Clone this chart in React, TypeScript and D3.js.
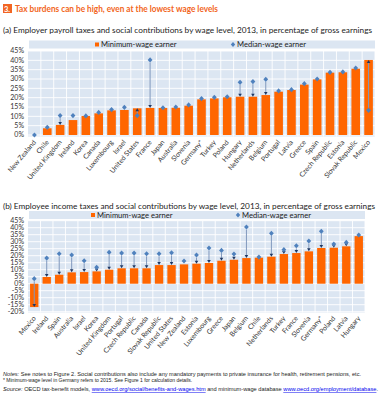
import React from "react";
import * as d3 from "d3";

const topCountries = ["New Zealand","Chile","United Kingdom","Ireland","Korea","Canada","Luxembourg","Israel","United States","France","Japan","Australia","Slovenia","Germany*","Turkey","Poland","Hungary","Netherlands","Belgium","Portugal","Latvia","Greece","Spain","Czech Republic","Estonia","Slovak Republic","Mexico"];
const topMin = [0,3.6,5.4,8,10.2,11.6,13.2,13.4,14.3,14.5,14.5,14.6,15.7,19.1,19.6,20.2,20.5,20.5,21.4,23.2,24.1,27,29.8,33.4,33.6,35.5,40.2];
const topMedian = [0,4.1,10.4,10.4,10.2,12.1,13.6,14.8,10.4,40.2,14.6,15,16.1,19.5,20.2,20.5,28.2,28.6,29.8,23.6,24.3,27.5,30,33.6,33.8,35.9,13.2];
const topTicks = [0,5,10,15,20,25,30,35,40,45];

const botCountries = ["Mexico","Ireland","Spain","Australia","Israel","Korea","United Kingdom","Portugal","Czech Republic","Canada","Slovak Republic","United States","New Zealand","Estonia","Luxembourg","Greece","Japan","Belgium","Chile","Netherlands","Turkey","France","Slovenia","Germany*","Poland","Latvia","Hungary"];
const botMin = [-16.7,4.8,6.4,8.1,8.3,8.8,10,11,11,11,13.3,13.3,13.8,14.3,14.8,16.4,17.1,18.3,18.6,19.3,21.2,21.9,23.1,25.5,25.7,26.7,34];
const botMedian = [3.6,18.3,21.4,20.5,16.4,11.7,22.4,21.9,21.9,21.4,21.4,22.1,16.2,20.5,25.5,23.8,21.2,40.5,19,36,24.3,27.1,30.5,37.4,28.3,29.5,34.8];
const botTicks = [-20,-15,-10,-5,0,5,10,15,20,25,30,35,40,45];

const ORANGE = "#ff6600";
const BLUE = "#4f81bd";
const BG = "#dce6f2";
const FONT = "Lato, 'Open Sans', sans-serif";

type PanelProps = {
  countries: string[]; mins: number[]; medians: number[]; ticks: number[];
  x0: number; x1: number; domain: [number, number]; yRange: [number, number];
  bgBottom: number; legendY: number; legendSq: number; legendDia: number; labelOff: number;
};

function Panel(p: PanelProps) {
  const x = d3.scaleBand<string>().domain(p.countries).range([p.x0, p.x1]).paddingInner(0.33).paddingOuter(0.165);
  const y = d3.scaleLinear().domain(p.domain).range(p.yRange);
  const step = x.step();
  const top = y(p.domain[1]);
  const bw = x.bandwidth();
  return (
    <g>
      <rect x={p.x0 + 1} y={p.legendY} width={p.x1 - p.x0 - 1} height={8} fill={BG} />
      <rect x={p.legendSq} y={p.legendY + 2} width={4} height={4} fill={ORANGE} />
      <text x={p.legendSq + 6} y={p.legendY + 6.7} fontSize={7.6} fontFamily={FONT} fill="#222">Minimum-wage earner</text>
      <path d={`M${p.legendDia},${p.legendY + 1.6}l2.2,2.4l-2.2,2.4l-2.2,-2.4z`} fill={BLUE} />
      <text x={p.legendDia + 4} y={p.legendY + 6.7} fontSize={7.6} fontFamily={FONT} fill="#222">Median-wage earner</text>
      <rect x={p.x0} y={top} width={p.x1 - p.x0} height={p.bgBottom - top} fill={BG} />
      {p.ticks.map((t) => (
        <line key={"h" + t} x1={p.x0} x2={p.x1} y1={y(t)} y2={y(t)} stroke="#fff" strokeWidth={0.9} />
      ))}
      {p.countries.map((c, i) => (
        <line key={"v" + c} x1={p.x0 + step * (i + 1)} x2={p.x0 + step * (i + 1)} y1={top} y2={p.bgBottom} stroke="#fff" strokeWidth={0.9} />
      ))}
      {p.ticks.map((t) => (
        <text key={"t" + t} x={p.x0 - 4} y={y(t) + 2.4} fontSize={7} fontFamily={FONT} fill="#333" textAnchor="end">{t + "%"}</text>
      ))}
      {p.countries.map((c, i) => {
        const v = p.mins[i];
        const y0 = y(0), yv = y(v);
        return <rect key={"b" + c} x={x(c)} y={Math.min(y0, yv)} width={bw} height={Math.abs(y0 - yv)} fill={ORANGE} />;
      })}
      {p.countries.map((c, i) => {
        const cx = (x(c) as number) + bw / 2;
        const ym = y(p.medians[i]);
        const yn = y(p.mins[i]);
        const d = yn - ym;
        if (Math.abs(p.medians[i] - p.mins[i]) < 2.5) return null;
        const dir = Math.sign(d);
        const ys = ym + dir * 2.6;
        const ye = yn;
        return (
          <g key={"a" + c}>
            <line x1={cx} x2={cx} y1={ys} y2={ye - dir * 2.5} stroke="#8098bd" strokeWidth={1} />
            <path d={`M${cx},${ye}L${cx - 1.8},${ye - dir * 3}L${cx + 1.8},${ye - dir * 3}Z`} fill="#1f3864" />
          </g>
        );
      })}
      {p.countries.map((c, i) => {
        const cx = (x(c) as number) + bw / 2;
        const ym = y(p.medians[i]);
        return <path key={"d" + c} d={`M${cx},${ym - 2.6}l2.4,2.6l-2.4,2.6l-2.4,-2.6z`} fill={BLUE} />;
      })}
      {p.countries.map((c) => {
        const cx = (x(c) as number) + bw / 2 + 2;
        const ly = p.bgBottom + p.labelOff;
        return (
          <text key={"l" + c} transform={`translate(${cx},${ly}) rotate(-50)`} fontSize={6.9} fontFamily={FONT} fill="#333" textAnchor="end">{c}</text>
        );
      })}
    </g>
  );
}

export default function App() {
  return (
    <svg width={381} height={400} style={{ position: "absolute", left: 0, top: 0, background: "#fff" }}>
      <rect x={3} y={4} width={9} height={9} fill="#f26522" />
      <text x={4} y={11.6} fontSize={7.5} fontWeight="bold" fontFamily={FONT} fill="#fff">3.</text>
      <text x={15} y={12.3} fontSize={10} fontWeight="bold" fontFamily={FONT} fill="#f26522" textLength={203} lengthAdjust="spacingAndGlyphs">Tax burdens can be high, even at the lowest wage levels</text>
      <text x={3} y={33} fontSize={8} fontFamily={FONT} fill="#222" textLength={369} lengthAdjust="spacingAndGlyphs">(a) Employer payroll taxes and social contributions by wage level, 2013, in percentage of gross earnings</text>
      <Panel countries={topCountries} mins={topMin} medians={topMedian} ticks={topTicks} x0={28} x1={375} domain={[0, 45]} yRange={[135, 51]} bgBottom={136.5} legendY={40.5} legendSq={95} legendDia={233} labelOff={6} />
      <text x={3} y={209} fontSize={8} fontFamily={FONT} fill="#222" textLength={372} lengthAdjust="spacingAndGlyphs">(b) Employee income taxes and social contributions by wage level, 2013, in percentage of gross earnings</text>
      <Panel countries={botCountries} mins={botMin} medians={botMedian} ticks={botTicks} x0={28} x1={365} domain={[-20, 45]} yRange={[311.7, 220.7]} bgBottom={312.5} legendY={211} legendSq={91} legendDia={238} labelOff={6} />
      <text x={3} y={376} fontSize={5} fontFamily="'Liberation Sans', Arial, sans-serif" fill="#222" textLength={358} lengthAdjust="spacingAndGlyphs"><tspan fontStyle="italic">Notes:</tspan> See notes to Figure 2. Social contributions also include any mandatory payments to private insurance for health, retirement pensions, etc.</text>
      <text x={3} y={382} fontSize={5} fontFamily="'Liberation Sans', Arial, sans-serif" fill="#222">* Minimum-wage level in Germany refers to 2015. See Figure 1 for calculation details.</text>
      <text x={3} y={391} fontSize={5} fontFamily="'Liberation Sans', Arial, sans-serif" fill="#222" textLength={375} lengthAdjust="spacingAndGlyphs"><tspan fontStyle="italic">Source:</tspan> OECD tax-benefit models, <tspan fill="#0000ee" textDecoration="underline">www.oecd.org/social/benefits-and-wages.htm</tspan> and minimum-wage database <tspan fill="#0000ee" textDecoration="underline">www.oecd.org/employment/database</tspan>.</text>
    </svg>
  );
}
